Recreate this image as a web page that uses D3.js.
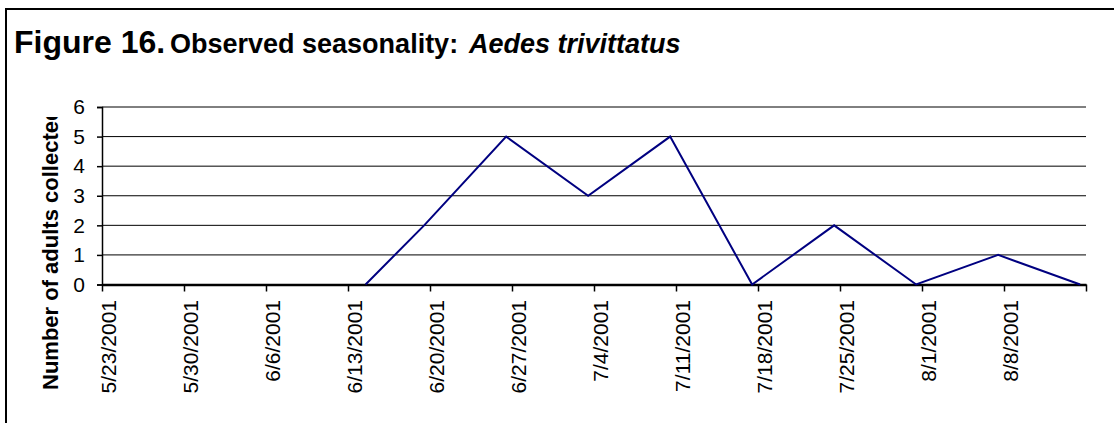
<!DOCTYPE html>
<html>
<head>
<meta charset="utf-8">
<script src="https://cdn.jsdelivr.net/npm/d3@7"></script>
<style>
  body { margin: 0; background: #fff; }
  svg { display: block; font-family: "Liberation Sans", Arial, sans-serif; }
</style>
</head>
<body>
<div id="chart"></div>
<script>
// weekly collection dates and adult counts
const sampleDates = ["6/14/2001", "6/19/2001", "6/26/2001", "7/3/2001", "7/10/2001",
  "7/17/2001", "7/24/2001", "7/31/2001", "8/7/2001", "8/14/2001"];
const adultCounts = [0, 2, 5, 3, 5, 0, 2, 0, 1, 0];

// axis ticks
const tickDates = ["5/23/2001", "5/30/2001", "6/6/2001", "6/13/2001", "6/20/2001", "6/27/2001",
  "7/4/2001", "7/11/2001", "7/18/2001", "7/25/2001", "8/1/2001", "8/8/2001", "8/15/2001"];
const labelledTicks = tickDates.slice(0, 12);
const yTicks = [0, 1, 2, 3, 4, 5, 6];

const W = 1114, H = 423;
const plot = { left: 102, right: 1086, top: 107, bottom: 284.5 };

const parse = d3.timeParse("%m/%d/%Y");
const fmt = d3.timeFormat("%-m/%-d/%Y");

const x = d3.scaleTime()
  .domain([parse(tickDates[0]), parse(tickDates[tickDates.length - 1])])
  .range([plot.left, plot.right]);

const y = d3.scaleLinear()
  .domain([0, 6])
  .range([plot.bottom, plot.top]);

const svg = d3.select("#chart").append("svg")
  .attr("width", W)
  .attr("height", H);

svg.append("rect").attr("width", W).attr("height", H).attr("fill", "#fff");

// frame (only left and top edges fall inside the picture)
svg.append("path")
  .attr("d", "M6," + H + "V9H" + W)
  .attr("fill", "none")
  .attr("stroke", "#000")
  .attr("stroke-width", 2);

// title
const title = svg.append("text")
  .attr("x", 14)
  .attr("y", 53)
  .attr("font-weight", "bold")
  .attr("fill", "#000");
title.append("tspan").attr("font-size", 32).text("Figure 16.");
title.append("tspan").attr("x", 170).attr("font-size", 27).text("Observed seasonality:");
title.append("tspan").attr("x", 469).attr("font-size", 27).attr("font-style", "italic").text("Aedes trivittatus");

// horizontal gridlines
svg.append("g")
  .selectAll("line")
  .data(yTicks.filter(d => d > 0))
  .join("line")
  .attr("x1", plot.left)
  .attr("x2", plot.right)
  .attr("y1", d => y(d))
  .attr("y2", d => y(d))
  .attr("stroke", "#000")
  .attr("stroke-width", 1);

// y axis
const yAxis = svg.append("g")
  .attr("transform", "translate(" + plot.left + ",0)")
  .call(d3.axisLeft(y).tickValues(yTicks).tickSize(5).tickPadding(12).tickFormat(d3.format("d")));
yAxis.select(".domain").attr("stroke", "#000").attr("stroke-width", 1.5);
yAxis.selectAll(".tick line").attr("stroke", "#000").attr("stroke-width", 1.5);
yAxis.selectAll("text")
  .attr("font-size", 21)
  .attr("font-family", "Liberation Sans, Arial, sans-serif")
  .attr("fill", "#000");

// x axis
const labelSet = new Set(labelledTicks);
const xAxis = svg.append("g")
  .attr("transform", "translate(0," + plot.bottom + ")")
  .call(d3.axisBottom(x)
    .tickValues(tickDates.map(parse))
    .tickSize(7)
    .tickSizeOuter(0)
    .tickFormat(d => labelSet.has(fmt(d)) ? fmt(d) : ""));
xAxis.select(".domain").attr("stroke", "#000").attr("stroke-width", 2.5);
xAxis.selectAll(".tick line").attr("stroke", "#000").attr("stroke-width", 1.5);
xAxis.selectAll("text")
  .attr("transform", "rotate(-90)")
  .attr("text-anchor", "end")
  .attr("x", -15.5)
  .attr("y", 13)
  .attr("dy", 0)
  .attr("font-size", 21)
  .attr("font-family", "Liberation Sans, Arial, sans-serif")
  .attr("fill", "#000");

// series line, each point at the middle of its day
const points = sampleDates.map((d, i) => [d3.timeHour.offset(parse(d), 12), adultCounts[i]]);
svg.append("path")
  .datum(points)
  .attr("fill", "none")
  .attr("stroke", "#000080")
  .attr("stroke-width", 2)
  .attr("stroke-linejoin", "miter")
  .attr("d", d3.line().x(d => x(d[0])).y(d => y(d[1])));

// y axis title, clipped at the top like the original
svg.append("clipPath").attr("id", "ytitle-clip")
  .append("rect").attr("x", 0).attr("y", 117).attr("width", 100).attr("height", H);
svg.append("g")
  .attr("clip-path", "url(#ytitle-clip)")
  .append("text")
  .attr("transform", "translate(58,390) rotate(-90)")
  .attr("font-size", 22)
  .attr("font-weight", "bold")
  .attr("fill", "#000")
  .text("Number of adults collected");
</script>
</body>
</html>
